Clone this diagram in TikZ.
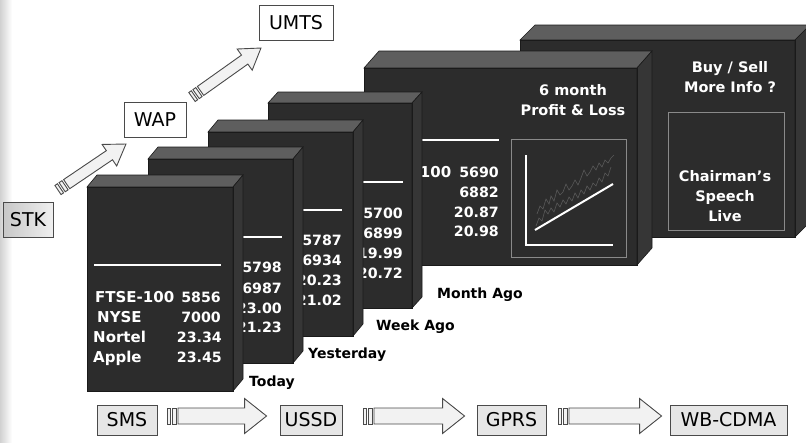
\documentclass[tikz,border=0pt]{standalone}
\usepackage{fontspec}
\setmainfont{DejaVu Sans}
\usetikzlibrary{calc}
\definecolor{blkfront}{HTML}{2C2C2C}
\definecolor{blktop}{HTML}{5E5E5E}
\definecolor{blkside}{HTML}{363636}
\definecolor{blkedge}{HTML}{1A1A1A}
\definecolor{boxedge}{HTML}{4A4A4A}
\definecolor{boxfill}{HTML}{E6E6E6}
\definecolor{arrfill}{HTML}{F2F2F2}
\definecolor{noisy}{HTML}{5A5A5A}
\definecolor{panelc}{HTML}{8A8A8A}

\newcommand\drawblock[6]{%
  \fill[blkfront] (#1,#2) rectangle (#3,#4);
  \filldraw[topface] (#1,#2) -- (#3,#2) -- ({#3+#5},{#2+#6}) -- ({#1+#5},{#2+#6}) -- cycle;
  \filldraw[sideface] (#3,#2) -- ({#3+#5},{#2+#6}) -- ({#3+#5},{#4+#6}) -- (#3,#4) -- cycle;
  \draw[frontface] (#1,#2) rectangle (#3,#4);}

\newcommand\fatarrow[5]{%
  \path let \p1=($(#2)-(#1)$) in \pgfextra{%
    \pgfmathsetmacro\fatangtmp{atan2(\y1,\x1)}%
    \pgfmathsetmacro\fatlentmp{veclen(\x1,\y1)}%
    \global\let\fatang\fatangtmp\global\let\fatlen\fatlentmp};
  \begin{scope}[shift={(#1)}, rotate=\fatang, x=1pt, y=1pt]
    \draw[arrowst] (0,-#3) rectangle (3,#3);
    \draw[arrowst] (5,-#3) rectangle (8.5,#3);
    \draw[arrowst] (10.5,-#3) -- ({\fatlen-#5},-#3) -- ({\fatlen-#5},-#4) -- (\fatlen,0)
      -- ({\fatlen-#5},#4) -- ({\fatlen-#5},#3) -- (10.5,#3) -- cycle;
  \end{scope}}

\begin{document}
\begin{tikzpicture}[x=1pt,y=-1pt,
  topface/.style={fill=blktop, draw=blkedge, line width=0.6pt},
  sideface/.style={fill=blkside, draw=blkedge, line width=0.6pt},
  frontface/.style={draw=blkedge, line width=0.6pt},
  num/.style={text=white, font=\bfseries\fontsize{14.2}{15}\selectfont, anchor=base east, inner sep=0pt},
  lab/.style={text=white, font=\bfseries\fontsize{15}{15}\selectfont, anchor=base west, inner sep=0pt},
  hd/.style={text=white, font=\bfseries\fontsize{14.5}{20}\selectfont, align=center, inner sep=0pt},
  period/.style={text=black, font=\bfseries\fontsize{14}{14}\selectfont, anchor=west, inner sep=0pt},
  wline/.style={draw=white, line width=2.4pt},
  panel/.style={draw=panelc, line width=0.7pt},
  tbox/.style={draw=boxedge, fill=boxfill, line width=0.9pt, font=\fontsize{19}{19}\selectfont,
    inner sep=0pt, minimum height=30pt},
  tboxw/.style={tbox, fill=white, minimum height=35pt},
  arrowst/.style={draw=boxedge, fill=arrfill, line width=0.9pt, line join=miter}]
\useasboundingbox (0,0) rectangle (806,442);
\clip (0,0) rectangle (806,442);
\fill[white] (0,0) rectangle (806,442);
\shade[left color=black!18, right color=white] (0,0) rectangle (12,442);

% ---- block 6: Buy / Sell
\drawblock{520}{40}{795}{237}{15}{-15}
\node[hd] (buy) at (730,77) {Buy / Sell\\More Info ?};
\draw[panel] (668,112) rectangle (784,230);
\node[hd] (chair) at (725,196) {Chairman’s\\Speech\\Live};

% ---- block 5: 6 month P&L
\drawblock{364}{68}{637}{265}{15}{-17}
\node[hd] (pl) at (573,100) {6 month\\Profit \& Loss};
\draw[wline] (371,140) -- (499,140);
\node[lab] (b5l1) at (372,177) {FTSE-100};
\node[num] (b5n1) at (499,177) {5690};
\node[num] (b5n2) at (499,197) {6882};
\node[num] (b5n3) at (499,217) {20.87};
\node[num] (b5n4) at (499,236) {20.98};
\draw[panel] (511,139) rectangle (626,257);
\draw[noisy, line width=0.6pt] (537,214) -- (540,206) -- (543,209) -- (546,199) -- (549,204) -- (551,196)
  -- (554,201) -- (557,190) -- (560,195) -- (563,192) -- (566,184) -- (569,190) -- (572,186)
  -- (575,180) -- (578,185) -- (581,178) -- (584,170) -- (587,176) -- (590,172) -- (593,166)
  -- (596,170) -- (599,163) -- (602,167) -- (605,160) -- (608,163) -- (611,158) -- (614,155);
\draw[noisy, line width=0.6pt] (536,226) -- (539,218) -- (542,221) -- (545,210) -- (548,214) -- (551,208)
  -- (554,212) -- (557,203) -- (560,207) -- (563,200) -- (566,204) -- (569,197) -- (572,201)
  -- (575,193) -- (578,198) -- (581,190) -- (584,194) -- (587,186) -- (590,190) -- (593,183)
  -- (596,186) -- (599,178) -- (602,182) -- (605,173) -- (608,176) -- (611,167);
\draw[white, line width=2.4pt] (526,155) -- (526,245) -- (613,245);
\draw[white, line width=2pt] (535,230) -- (613,184);

% ---- block 4
\drawblock{268}{103}{412}{308}{10}{-11}
\draw[wline] (275,182) -- (403,182);
\node[num] (b4n1) at (403,218) {5700};
\node[num] (b4n2) at (403,238) {6899};
\node[num] (b4n3) at (403,258) {19.99};
\node[num] (b4n4) at (403,278) {20.72};

% ---- block 3
\drawblock{208}{132}{353}{336}{10}{-12}
\draw[wline] (215,210) -- (342,210);
\node[num] (b3n1) at (342,245) {5787};
\node[num] (b3n2) at (342,265) {6934};
\node[num] (b3n3) at (342,285) {20.23};
\node[num] (b3n4) at (342,305) {21.02};

% ---- block 2
\drawblock{148}{159}{293}{363}{10}{-12}
\draw[wline] (155,237) -- (282,237);
\node[num] (b2n1) at (282,272) {5798};
\node[num] (b2n2) at (282,293) {6987};
\node[num] (b2n3) at (282,313) {23.00};
\node[num] (b2n4) at (282,332) {21.23};

% ---- block 1
\drawblock{87}{187}{233}{391}{10}{-12}
\draw[wline] (94,265) -- (221,265);
\node[lab] (b1l1) at (95,302) {FTSE-100};
\node[lab] (b1l2) at (97,322) {NYSE};
\node[lab] (b1l3) at (93,342) {Nortel};
\node[lab] (b1l4) at (93,362) {Apple};
\node[num] (b1n1) at (221,302) {5856};
\node[num] (b1n2) at (221,322) {7000};
\node[num] (b1n3) at (222,342) {23.34};
\node[num] (b1n4) at (222,362) {23.45};

% ---- period labels
\node[period] (today) at (249,383) {Today};
\node[period] (yest) at (308,355) {Yesterday};
\node[period] (week) at (376,327) {Week Ago};
\node[period] (month) at (437,295) {Month Ago};

% ---- upper technology boxes
\node[tbox, minimum width=50pt, minimum height=35pt, left color=black!22, right color=black!6] (stk) at (28,219.5) {STK};
\node[tboxw, minimum width=62pt] (wap) at (155,119.5) {WAP};
\node[tboxw, minimum width=74pt] (umts) at (296,22.5) {UMTS};
\coordinate (a1t) at (58,190);
\coordinate (a1h) at (126,144);
\coordinate (a2t) at (192,97);
\coordinate (a2h) at (261,48);
\fatarrow{a1t}{a1h}{5.5}{13}{20}
\fatarrow{a2t}{a2h}{5.5}{13}{20}

% ---- lower technology boxes
\node[tbox, minimum width=60pt] (sms) at (127,420) {SMS};
\node[tbox, minimum width=62pt] (ussd) at (311,420) {USSD};
\node[tbox, minimum width=69pt] (gprs) at (511.5,420) {GPRS};
\node[tbox, minimum width=117pt] (wbcdma) at (728.5,420) {WB-CDMA};
\coordinate (b1t) at ($(sms.east)+(10,-4)$);
\coordinate (b1h) at ($(ussd.west)+(-13,-4)$);
\coordinate (b2t) at ($(ussd.east)+(21,-4)$);
\coordinate (b2h) at ($(gprs.west)+(-12,-4)$);
\coordinate (b3t) at ($(gprs.east)+(12,-4)$);
\coordinate (b3h) at ($(wbcdma.west)+(-8,-4)$);
\fatarrow{b1t}{b1h}{8}{17.5}{22}
\fatarrow{b2t}{b2h}{8}{17.5}{22}
\fatarrow{b3t}{b3h}{8}{17.5}{22}
\end{tikzpicture}
\end{document}
